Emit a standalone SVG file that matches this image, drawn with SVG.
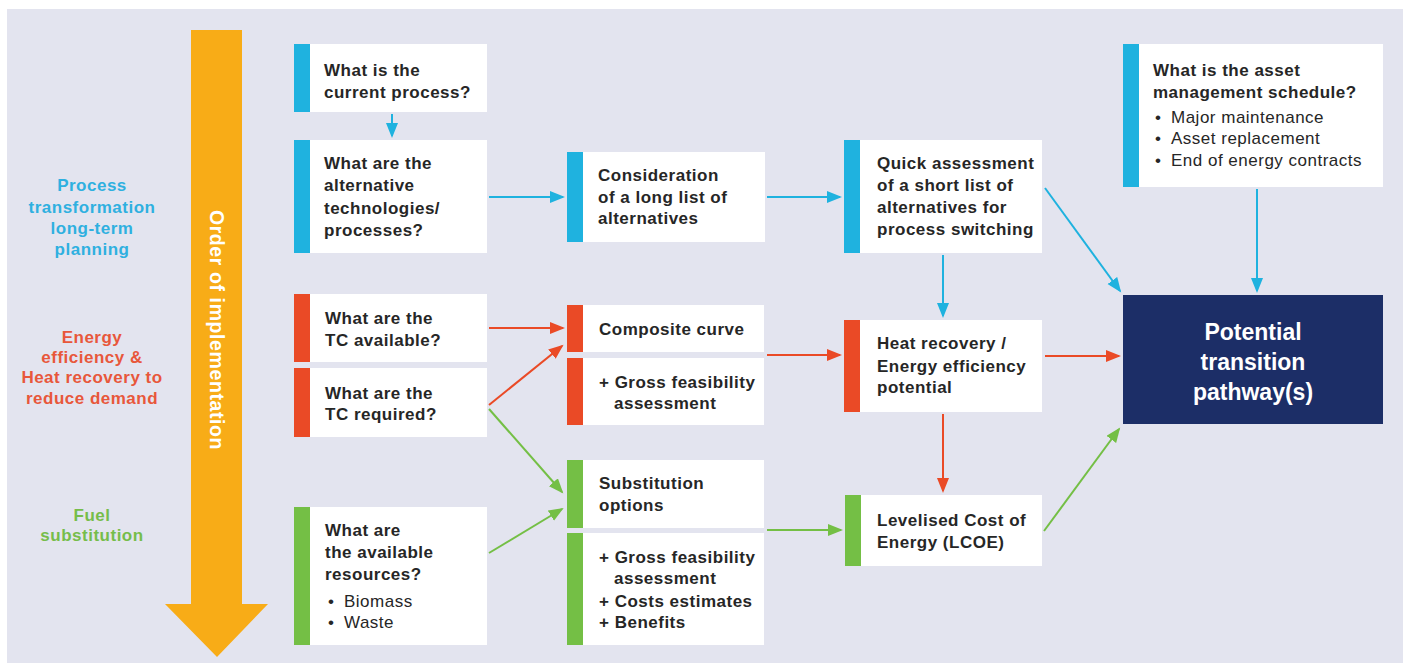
<svg xmlns="http://www.w3.org/2000/svg" width="1410" height="663" viewBox="0 0 1410 663">
  <style>
    .box { fill: #ffffff; }
    .cy { fill: #1fb2df; }
    .rd { fill: #ea4a26; }
    .gr { fill: #74bf45; }
    .t { font-family: "Liberation Sans", Arial, sans-serif; font-size: 17px; letter-spacing: 0.5px; font-weight: bold; fill: #262626; }
    .tn { font-weight: normal; }
    .lab { font-family: "Liberation Sans", Arial, sans-serif; font-size: 17px; letter-spacing: 0.5px; font-weight: bold; text-anchor: middle; }
    .lc { stroke-width: 2; fill: none; }
    .lc-cy { stroke: #1fb2df; }
    .lc-rd { stroke: #ea4a26; }
    .lc-gr { stroke: #74bf45; }
  </style>
  <defs>
    <marker id="ah-cy" markerUnits="userSpaceOnUse" markerWidth="16" markerHeight="13" refX="13" refY="6" orient="auto">
      <path d="M0,0 L15,6 L0,12 z" fill="#1fb2df"/>
    </marker>
    <marker id="ah-rd" markerUnits="userSpaceOnUse" markerWidth="16" markerHeight="13" refX="13" refY="6" orient="auto">
      <path d="M0,0 L15,6 L0,12 z" fill="#ea4a26"/>
    </marker>
    <marker id="ah-gr" markerUnits="userSpaceOnUse" markerWidth="16" markerHeight="13" refX="13" refY="6" orient="auto">
      <path d="M0,0 L15,6 L0,12 z" fill="#74bf45"/>
    </marker>
  </defs>

  <!-- page and panel -->
  <rect x="0" y="0" width="1410" height="663" fill="#ffffff"/>
  <rect x="7" y="9" width="1396" height="654" fill="#e3e4ef"/>

  <!-- row labels -->
  <g id="labels">
    <text class="lab" fill="#2fb0e0"><tspan x="92" y="191">Process</tspan><tspan x="92" y="213">transformation</tspan><tspan x="92" y="234">long-term</tspan><tspan x="92" y="255">planning</tspan></text>
    <text class="lab" fill="#e8573b"><tspan x="92" y="343">Energy</tspan><tspan x="92" y="363">efficiency &amp;</tspan><tspan x="92" y="383">Heat recovery to</tspan><tspan x="92" y="404">reduce demand</tspan></text>
    <text class="lab" fill="#76bd4a"><tspan x="92" y="521">Fuel</tspan><tspan x="92" y="541">substitution</tspan></text>
  </g>

  <!-- order of implementation arrow -->
  <g id="order-arrow">
    <path d="M191,30 L242,30 L242,604 L268,604 L217,657 L165,604 L191,604 z" fill="#f8ac17"/>
    <text transform="translate(210,330) rotate(90)" text-anchor="middle" font-family="'Liberation Sans', Arial, sans-serif" font-size="19.5" letter-spacing="0.6" font-weight="bold" fill="#ffffff">Order of implementation</text>
  </g>

  <!-- connectors -->
  <g id="connectors">
    <line class="lc lc-cy" x1="392" y1="114" x2="392" y2="136" marker-end="url(#ah-cy)"/>
    <line class="lc lc-cy" x1="489" y1="197" x2="563" y2="197" marker-end="url(#ah-cy)"/>
    <line class="lc lc-cy" x1="767" y1="197" x2="840" y2="197" marker-end="url(#ah-cy)"/>
    <line class="lc lc-cy" x1="943" y1="255" x2="943" y2="316" marker-end="url(#ah-cy)"/>
    <line class="lc lc-cy" x1="1045" y1="188" x2="1120" y2="291" marker-end="url(#ah-cy)"/>
    <line class="lc lc-cy" x1="1257" y1="189" x2="1257" y2="291" marker-end="url(#ah-cy)"/>

    <line class="lc lc-rd" x1="489" y1="328" x2="563" y2="328" marker-end="url(#ah-rd)"/>
    <line class="lc lc-rd" x1="489" y1="405" x2="562" y2="346" marker-end="url(#ah-rd)"/>
    <line class="lc lc-rd" x1="767" y1="355" x2="840" y2="355" marker-end="url(#ah-rd)"/>
    <line class="lc lc-rd" x1="943" y1="414" x2="943" y2="491" marker-end="url(#ah-rd)"/>
    <line class="lc lc-rd" x1="1045" y1="356" x2="1119" y2="356" marker-end="url(#ah-rd)"/>

    <line class="lc lc-gr" x1="489" y1="409" x2="562" y2="492" marker-end="url(#ah-gr)"/>
    <line class="lc lc-gr" x1="489" y1="553" x2="562" y2="509" marker-end="url(#ah-gr)"/>
    <line class="lc lc-gr" x1="767" y1="530" x2="841" y2="530" marker-end="url(#ah-gr)"/>
    <line class="lc lc-gr" x1="1044" y1="531" x2="1119" y2="429" marker-end="url(#ah-gr)"/>
  </g>

  <!-- column 1 -->
  <g id="current-process">
    <rect class="box" x="294" y="44" width="193" height="68"/>
    <rect class="cy" x="294" y="44" width="16" height="68"/>
    <text class="t"><tspan x="324" y="76">What is the</tspan><tspan x="324" y="98">current process?</tspan></text>
  </g>
  <g id="alt-technologies">
    <rect class="box" x="294" y="140" width="193" height="113"/>
    <rect class="cy" x="294" y="140" width="16" height="113"/>
    <text class="t"><tspan x="324" y="169">What are the</tspan><tspan x="324" y="191">alternative</tspan><tspan x="324" y="214">technologies/</tspan><tspan x="324" y="236">processes?</tspan></text>
  </g>
  <g id="tc-available">
    <rect class="box" x="294" y="294" width="193" height="68"/>
    <rect class="rd" x="294" y="294" width="16" height="68"/>
    <text class="t"><tspan x="325" y="324">What are the</tspan><tspan x="325" y="346">TC available?</tspan></text>
  </g>
  <g id="tc-required">
    <rect class="box" x="294" y="368" width="193" height="69"/>
    <rect class="rd" x="294" y="368" width="16" height="69"/>
    <text class="t"><tspan x="325" y="399">What are the</tspan><tspan x="325" y="420">TC required?</tspan></text>
  </g>
  <g id="resources">
    <rect class="box" x="294" y="507" width="193" height="138"/>
    <rect class="gr" x="294" y="507" width="16" height="138"/>
    <text class="t"><tspan x="325" y="536">What are</tspan><tspan x="325" y="558">the available</tspan><tspan x="325" y="580">resources?</tspan></text>
    <text class="t tn"><tspan x="328" y="607">•</tspan><tspan x="344" y="607">Biomass</tspan><tspan x="328" y="628">•</tspan><tspan x="344" y="628">Waste</tspan></text>
  </g>

  <!-- column 2 -->
  <g id="long-list">
    <rect class="box" x="567" y="152" width="198" height="90"/>
    <rect class="cy" x="567" y="152" width="16" height="90"/>
    <text class="t"><tspan x="598" y="181">Consideration</tspan><tspan x="598" y="203">of a long list of</tspan><tspan x="598" y="224">alternatives</tspan></text>
  </g>
  <g id="composite-curve">
    <rect class="box" x="567" y="305" width="197" height="47"/>
    <rect class="rd" x="567" y="305" width="16" height="47"/>
    <text class="t"><tspan x="599" y="335">Composite curve</tspan></text>
  </g>
  <g id="gross-feasibility-1">
    <rect class="box" x="567" y="358" width="197" height="67"/>
    <rect class="rd" x="567" y="358" width="16" height="67"/>
    <text class="t"><tspan x="599" y="388">+ Gross feasibility</tspan><tspan x="614" y="409">assessment</tspan></text>
  </g>
  <g id="substitution-options">
    <rect class="box" x="567" y="460" width="197" height="68"/>
    <rect class="gr" x="567" y="460" width="16" height="68"/>
    <text class="t"><tspan x="599" y="489">Substitution</tspan><tspan x="599" y="511">options</tspan></text>
  </g>
  <g id="gross-feasibility-2">
    <rect class="box" x="567" y="533" width="197" height="112"/>
    <rect class="gr" x="567" y="533" width="16" height="112"/>
    <text class="t"><tspan x="599" y="563">+ Gross feasibility</tspan><tspan x="614" y="584">assessment</tspan><tspan x="599" y="607">+ Costs estimates</tspan><tspan x="599" y="628">+ Benefits</tspan></text>
  </g>

  <!-- column 3 -->
  <g id="short-list">
    <rect class="box" x="844" y="140" width="198" height="113"/>
    <rect class="cy" x="844" y="140" width="16" height="113"/>
    <text class="t"><tspan x="877" y="169">Quick assessment</tspan><tspan x="877" y="191">of a short list of</tspan><tspan x="877" y="213">alternatives for</tspan><tspan x="877" y="235">process switching</tspan></text>
  </g>
  <g id="heat-recovery">
    <rect class="box" x="844" y="320" width="198" height="92"/>
    <rect class="rd" x="844" y="320" width="16" height="92"/>
    <text class="t"><tspan x="877" y="349">Heat recovery /</tspan><tspan x="877" y="372">Energy efficiency</tspan><tspan x="877" y="393">potential</tspan></text>
  </g>
  <g id="lcoe">
    <rect class="box" x="845" y="495" width="197" height="71"/>
    <rect class="gr" x="845" y="495" width="16" height="71"/>
    <text class="t"><tspan x="877" y="526">Levelised Cost of</tspan><tspan x="877" y="548">Energy (LCOE)</tspan></text>
  </g>

  <!-- column 4 -->
  <g id="asset-schedule">
    <rect class="box" x="1123" y="44" width="260" height="143"/>
    <rect class="cy" x="1123" y="44" width="16" height="143"/>
    <text class="t"><tspan x="1153" y="76">What is the asset</tspan><tspan x="1153" y="98">management schedule?</tspan></text>
    <text class="t tn"><tspan x="1155" y="123">•</tspan><tspan x="1171" y="123">Major maintenance</tspan><tspan x="1155" y="144">•</tspan><tspan x="1171" y="144">Asset replacement</tspan><tspan x="1155" y="166">•</tspan><tspan x="1171" y="166">End of energy contracts</tspan></text>
  </g>
  <g id="transition-pathways">
    <rect x="1123" y="295" width="260" height="129" fill="#1c2e67"/>
    <text font-family="'Liberation Sans', Arial, sans-serif" font-size="23" font-weight="bold" fill="#ffffff" text-anchor="middle"><tspan x="1253" y="340">Potential</tspan><tspan x="1253" y="370">transition</tspan><tspan x="1253" y="400">pathway(s)</tspan></text>
  </g>
</svg>
